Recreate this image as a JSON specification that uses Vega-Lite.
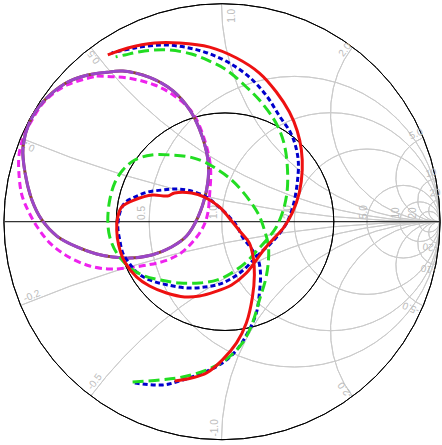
{
"$schema":"https://vega.github.io/schema/vega-lite/v6.json",
"width":442,"height":445,
"autosize":{"type":"fit","contains":"padding"},
"padding":0,
"background":"white",
"config":{"view":{"stroke":null}},
"datasets":{
"grid":[
{"u":0.3333,"v":0,"r":0.6667,"t1":0,"t2":360},
{"u":0.5,"v":0,"r":0.5,"t1":0,"t2":360},
{"u":0.6667,"v":0,"r":0.3333,"t1":0,"t2":360},
{"u":0.8333,"v":0,"r":0.1667,"t1":0,"t2":360},
{"u":0.9091,"v":0,"r":0.0909,"t1":0,"t2":360},
{"u":0.9524,"v":0,"r":0.0476,"t1":0,"t2":360},
{"u":1,"v":5,"r":5,"t1":180,"t2":202.62},
{"u":1,"v":2,"r":2,"t1":180,"t2":233.13},
{"u":1,"v":1,"r":1,"t1":180,"t2":270},
{"u":1,"v":0.5,"r":0.5,"t1":180,"t2":306.87},
{"u":1,"v":0.2,"r":0.2,"t1":180,"t2":337.38},
{"u":1,"v":0.1,"r":0.1,"t1":180,"t2":348.58},
{"u":1,"v":0.05,"r":0.05,"t1":180,"t2":354.28},
{"u":1,"v":-5,"r":5,"t1":337.38,"t2":360},
{"u":1,"v":-2,"r":2,"t1":306.87,"t2":360},
{"u":1,"v":-1,"r":1,"t1":270,"t2":360},
{"u":1,"v":-0.5,"r":0.5,"t1":233.13,"t2":360},
{"u":1,"v":-0.2,"r":0.2,"t1":202.62,"t2":360},
{"u":1,"v":-0.1,"r":0.1,"t1":191.42,"t2":360},
{"u":1,"v":-0.05,"r":0.05,"t1":185.72,"t2":360}
],
"circ":[
{"u":0,"v":0,"r":1,"t1":0,"t2":360},
{"u":0.014,"v":0,"r":0.499,"t1":0,"t2":360}
],
"axisline":[{"u":-1,"u2":1,"v":0}],
"labels":[
{"s":"0.2","u":-0.892,"v":0.347,"a":-157.4},
{"s":"0.5","u":-0.589,"v":0.755,"a":-126.9},
{"s":"1.0","u":0.044,"v":0.944,"a":-90},
{"s":"2.0","u":0.566,"v":0.788,"a":-53.1},
{"s":"5.0","u":0.892,"v":0.402,"a":-22.6},
{"s":"10","u":0.961,"v":0.223,"a":-11.4},
{"s":"20","u":0.979,"v":0.132,"a":-5.7},
{"s":"-0.2","u":-0.874,"v":-0.341,"a":-22.6},
{"s":"-0.5","u":-0.585,"v":-0.735,"a":-53.1},
{"s":"-1.0","u":-0.030,"v":-0.946,"a":-90},
{"s":"-2.0","u":0.566,"v":-0.772,"a":-126.9},
{"s":"-5.0","u":0.869,"v":-0.396,"a":-157.4},
{"s":"-10","u":0.947,"v":-0.217,"a":-168.6},
{"s":"-20","u":0.956,"v":-0.116,"a":-174.3},
{"s":"0.5","u":-0.369,"v":0.040,"a":-90},
{"s":"1.0","u":-0.039,"v":0.044,"a":-90},
{"s":"2.0","u":0.305,"v":0.044,"a":-90},
{"s":"5.0","u":0.654,"v":0.044,"a":-90},
{"s":"10","u":0.800,"v":0.040,"a":-90},
{"s":"20","u":0.878,"v":0.040,"a":-90}
],
"purple":[
{"o":1,"u":-0.516,"v":0.687},{"o":2,"u":-0.456,"v":0.691},{"o":3,"u":-0.333,"v":0.662},{"o":4,"u":-0.225,"v":0.600},{"o":5,"u":-0.145,"v":0.508},{"o":6,"u":-0.090,"v":0.388},{"o":7,"u":-0.062,"v":0.260},{"o":8,"u":-0.071,"v":0.145},{"o":9,"u":-0.112,"v":0.017},{"o":10,"u":-0.163,"v":-0.066},{"o":11,"u":-0.232,"v":-0.116},{"o":12,"u":-0.323,"v":-0.153},{"o":13,"u":-0.424,"v":-0.167},{"o":14,"u":-0.502,"v":-0.162},{"o":15,"u":-0.576,"v":-0.148},{"o":16,"u":-0.667,"v":-0.116},{"o":17,"u":-0.759,"v":-0.066},{"o":18,"u":-0.828,"v":0.008},{"o":19,"u":-0.874,"v":0.100},{"o":20,"u":-0.906,"v":0.228},{"o":21,"u":-0.915,"v":0.338},{"o":22,"u":-0.888,"v":0.448},{"o":23,"u":-0.828,"v":0.544},{"o":24,"u":-0.718,"v":0.636},{"o":25,"u":-0.617,"v":0.673},{"o":26,"u":-0.516,"v":0.687}
],
"magenta":[
{"o":1,"u":-0.576,"v":0.668},{"o":2,"u":-0.433,"v":0.659},{"o":3,"u":-0.310,"v":0.627},{"o":4,"u":-0.218,"v":0.577},{"o":5,"u":-0.135,"v":0.499},{"o":6,"u":-0.080,"v":0.375},{"o":7,"u":-0.053,"v":0.251},{"o":8,"u":-0.057,"v":0.122},{"o":9,"u":-0.067,"v":0.031},{"o":10,"u":-0.089,"v":-0.029},{"o":11,"u":-0.135,"v":-0.093},{"o":12,"u":-0.195,"v":-0.148},{"o":13,"u":-0.264,"v":-0.180},{"o":14,"u":-0.346,"v":-0.199},{"o":15,"u":-0.438,"v":-0.212},{"o":16,"u":-0.516,"v":-0.217},{"o":17,"u":-0.608,"v":-0.203},{"o":18,"u":-0.713,"v":-0.157},{"o":19,"u":-0.791,"v":-0.098},{"o":20,"u":-0.846,"v":-0.029},{"o":21,"u":-0.888,"v":0.044},{"o":22,"u":-0.920,"v":0.122},{"o":23,"u":-0.933,"v":0.214},{"o":24,"u":-0.933,"v":0.306},{"o":25,"u":-0.911,"v":0.393},{"o":26,"u":-0.874,"v":0.466},{"o":27,"u":-0.814,"v":0.554},{"o":28,"u":-0.713,"v":0.627},{"o":29,"u":-0.576,"v":0.668}
],
"red":[
{"o":1,"u":-0.218,"v":-0.731},{"o":2,"u":-0.140,"v":-0.717},{"o":3,"u":-0.071,"v":-0.694},{"o":4,"u":0.002,"v":-0.634},{"o":5,"u":0.067,"v":-0.556},{"o":6,"u":0.112,"v":-0.465},{"o":7,"u":0.140,"v":-0.345},{"o":8,"u":0.149,"v":-0.244},{"o":9,"u":0.144,"v":-0.167},{"o":10,"u":0.126,"v":-0.098},{"o":11,"u":0.089,"v":-0.052},{"o":12,"u":0.048,"v":-0.001},{"o":13,"u":-0.011,"v":0.067},{"o":14,"u":-0.080,"v":0.113},{"o":15,"u":-0.140,"v":0.132},{"o":16,"u":-0.218,"v":0.132},{"o":17,"u":-0.250,"v":0.118},{"o":18,"u":-0.319,"v":0.122},{"o":19,"u":-0.401,"v":0.100},{"o":20,"u":-0.461,"v":0.067},{"o":21,"u":-0.479,"v":0.022},{"o":22,"u":-0.484,"v":-0.038},{"o":23,"u":-0.475,"v":-0.107},{"o":24,"u":-0.447,"v":-0.185},{"o":25,"u":-0.392,"v":-0.254},{"o":26,"u":-0.333,"v":-0.295},{"o":27,"u":-0.255,"v":-0.327},{"o":28,"u":-0.172,"v":-0.345},{"o":29,"u":-0.103,"v":-0.341},{"o":30,"u":-0.034,"v":-0.322},{"o":31,"u":0.044,"v":-0.290},{"o":32,"u":0.112,"v":-0.235},{"o":33,"u":0.158,"v":-0.176},{"o":34,"u":0.195,"v":-0.125},{"o":35,"u":0.236,"v":-0.079},{"o":36,"u":0.282,"v":-0.029},{"o":37,"u":0.323,"v":0.040},{"o":38,"u":0.356,"v":0.136},{"o":39,"u":0.369,"v":0.237},{"o":40,"u":0.365,"v":0.329},{"o":41,"u":0.346,"v":0.416},{"o":42,"u":0.310,"v":0.503},{"o":43,"u":0.250,"v":0.595},{"o":44,"u":0.172,"v":0.682},{"o":45,"u":0.067,"v":0.751},{"o":46,"u":-0.057,"v":0.801},{"o":47,"u":-0.195,"v":0.820},{"o":48,"u":-0.310,"v":0.820},{"o":49,"u":-0.433,"v":0.797},{"o":50,"u":-0.525,"v":0.765}
],
"blue":[
{"o":1,"u":-0.401,"v":-0.740},{"o":2,"u":-0.273,"v":-0.749},{"o":3,"u":-0.181,"v":-0.726},{"o":4,"u":-0.089,"v":-0.694},{"o":5,"u":0.002,"v":-0.648},{"o":6,"u":0.067,"v":-0.589},{"o":7,"u":0.117,"v":-0.511},{"o":8,"u":0.158,"v":-0.419},{"o":9,"u":0.172,"v":-0.327},{"o":10,"u":0.177,"v":-0.235},{"o":11,"u":0.167,"v":-0.176},{"o":12,"u":0.149,"v":-0.144},{"o":13,"u":0.126,"v":-0.111},{"o":14,"u":0.094,"v":-0.070},{"o":15,"u":0.071,"v":-0.024},{"o":16,"u":0.034,"v":0.022},{"o":17,"u":-0.025,"v":0.077},{"o":18,"u":-0.080,"v":0.118},{"o":19,"u":-0.158,"v":0.145},{"o":20,"u":-0.218,"v":0.150},{"o":21,"u":-0.278,"v":0.145},{"o":22,"u":-0.342,"v":0.136},{"o":23,"u":-0.401,"v":0.113},{"o":24,"u":-0.447,"v":0.086},{"o":25,"u":-0.470,"v":0.040},{"o":26,"u":-0.479,"v":-0.024},{"o":27,"u":-0.470,"v":-0.084},{"o":28,"u":-0.456,"v":-0.144},{"o":29,"u":-0.424,"v":-0.194},{"o":30,"u":-0.388,"v":-0.235},{"o":31,"u":-0.333,"v":-0.267},{"o":32,"u":-0.250,"v":-0.290},{"o":33,"u":-0.158,"v":-0.304},{"o":34,"u":-0.080,"v":-0.300},{"o":35,"u":-0.011,"v":-0.286},{"o":36,"u":0.048,"v":-0.258},{"o":37,"u":0.103,"v":-0.217},{"o":38,"u":0.149,"v":-0.171},{"o":39,"u":0.186,"v":-0.134},{"o":40,"u":0.222,"v":-0.102},{"o":41,"u":0.259,"v":-0.061},{"o":42,"u":0.300,"v":-0.001},{"o":43,"u":0.328,"v":0.077},{"o":44,"u":0.346,"v":0.178},{"o":45,"u":0.351,"v":0.274},{"o":46,"u":0.337,"v":0.352},{"o":47,"u":0.314,"v":0.411},{"o":48,"u":0.264,"v":0.485},{"o":49,"u":0.209,"v":0.572},{"o":50,"u":0.131,"v":0.659},{"o":51,"u":0.034,"v":0.728},{"o":52,"u":-0.067,"v":0.774},{"o":53,"u":-0.172,"v":0.801},{"o":54,"u":-0.278,"v":0.811},{"o":55,"u":-0.401,"v":0.797},{"o":56,"u":-0.507,"v":0.774}
],
"green":[
{"o":1,"u":-0.411,"v":-0.735},{"o":2,"u":-0.287,"v":-0.726},{"o":3,"u":-0.181,"v":-0.712},{"o":4,"u":-0.071,"v":-0.680},{"o":5,"u":0.021,"v":-0.630},{"o":6,"u":0.094,"v":-0.556},{"o":7,"u":0.140,"v":-0.465},{"o":8,"u":0.172,"v":-0.359},{"o":9,"u":0.200,"v":-0.267},{"o":10,"u":0.213,"v":-0.185},{"o":11,"u":0.213,"v":-0.107},{"o":12,"u":0.195,"v":-0.038},{"o":13,"u":0.172,"v":0.026},{"o":14,"u":0.135,"v":0.086},{"o":15,"u":0.089,"v":0.145},{"o":16,"u":0.034,"v":0.200},{"o":17,"u":-0.025,"v":0.242},{"o":18,"u":-0.080,"v":0.274},{"o":19,"u":-0.149,"v":0.297},{"o":20,"u":-0.232,"v":0.306},{"o":21,"u":-0.323,"v":0.306},{"o":22,"u":-0.401,"v":0.283},{"o":23,"u":-0.456,"v":0.237},{"o":24,"u":-0.493,"v":0.178},{"o":25,"u":-0.516,"v":0.100},{"o":26,"u":-0.525,"v":0.008},{"o":27,"u":-0.516,"v":-0.070},{"o":28,"u":-0.484,"v":-0.144},{"o":29,"u":-0.433,"v":-0.203},{"o":30,"u":-0.369,"v":-0.244},{"o":31,"u":-0.287,"v":-0.267},{"o":32,"u":-0.195,"v":-0.281},{"o":33,"u":-0.103,"v":-0.281},{"o":34,"u":-0.021,"v":-0.267},{"o":35,"u":0.044,"v":-0.235},{"o":36,"u":0.112,"v":-0.185},{"o":37,"u":0.163,"v":-0.130},{"o":38,"u":0.209,"v":-0.079},{"o":39,"u":0.250,"v":-0.024},{"o":40,"u":0.282,"v":0.054},{"o":41,"u":0.300,"v":0.145},{"o":42,"u":0.300,"v":0.260},{"o":43,"u":0.287,"v":0.352},{"o":44,"u":0.264,"v":0.421},{"o":45,"u":0.232,"v":0.480},{"o":46,"u":0.172,"v":0.558},{"o":47,"u":0.112,"v":0.618},{"o":48,"u":0.021,"v":0.696},{"o":49,"u":-0.057,"v":0.737},{"o":50,"u":-0.140,"v":0.769},{"o":51,"u":-0.250,"v":0.788},{"o":52,"u":-0.356,"v":0.783},{"o":53,"u":-0.447,"v":0.765},{"o":54,"u":-0.489,"v":0.756}
]
},
"layer":[
{"data":{"name":"grid"},
 "mark":{"type":"arc","filled":false,"stroke":"#cbcbcb","strokeWidth":1},
 "encoding":{
  "x":{"field":"u","type":"quantitative","scale":{"domain":[-1.0206,1.0069],"nice":false,"zero":false},"axis":null},
  "y":{"field":"v","type":"quantitative","scale":{"domain":[-1.0243,1.017],"nice":false,"zero":false},"axis":null},
  "theta":{"field":"t1","type":"quantitative","stack":null,"scale":{"type":"linear","domain":[0,360],"range":[0,6.283185307179586]}},
  "theta2":{"field":"t2"},
  "radius":{"field":"r","type":"quantitative","stack":null,"scale":{"type":"linear","domain":[0,1],"range":[0,218],"zero":true}},
  "radius2":{"field":"r"}}},
{"data":{"name":"circ"},
 "mark":{"type":"arc","filled":false,"stroke":"#000000","strokeWidth":1},
 "encoding":{
  "x":{"field":"u","type":"quantitative","axis":null},
  "y":{"field":"v","type":"quantitative","axis":null},
  "theta":{"field":"t1","type":"quantitative","stack":null},
  "theta2":{"field":"t2"},
  "radius":{"field":"r","type":"quantitative","stack":null},
  "radius2":{"field":"r"}}},
{"data":{"name":"axisline"},
 "mark":{"type":"rule","color":"#000000","strokeWidth":1},
 "encoding":{
  "x":{"field":"u","type":"quantitative","axis":null},
  "x2":{"field":"u2"},
  "y":{"field":"v","type":"quantitative","axis":null}}},
{"data":{"name":"labels"},
 "mark":{"type":"text","font":"Liberation Sans","fontSize":10,"fill":"#bbbbbb","align":"center","baseline":"middle"},
 "encoding":{
  "x":{"field":"u","type":"quantitative","axis":null},
  "y":{"field":"v","type":"quantitative","axis":null},
  "angle":{"field":"a","type":"quantitative","scale":null},
  "text":{"field":"s"}}},
{"data":{"name":"magenta"},
 "mark":{"type":"line","color":"#ee22ee","strokeWidth":3,"strokeDash":[7,4],"interpolate":"catmull-rom"},
 "encoding":{
  "x":{"field":"u","type":"quantitative","axis":null},
  "y":{"field":"v","type":"quantitative","axis":null},
  "order":{"field":"o","type":"quantitative"}}},
{"data":{"name":"purple"},
 "mark":{"type":"line","color":"#8b4a2b","strokeWidth":3,"interpolate":"catmull-rom"},
 "encoding":{
  "x":{"field":"u","type":"quantitative","axis":null},
  "y":{"field":"v","type":"quantitative","axis":null},
  "order":{"field":"o","type":"quantitative"}}},
{"data":{"name":"purple"},
 "mark":{"type":"line","color":"#9a46c8","strokeWidth":3,"strokeDash":[24,2],"interpolate":"catmull-rom"},
 "encoding":{
  "x":{"field":"u","type":"quantitative","axis":null},
  "y":{"field":"v","type":"quantitative","axis":null},
  "order":{"field":"o","type":"quantitative"}}},
{"data":{"name":"blue"},
 "mark":{"type":"line","color":"#0000cc","strokeWidth":3,"strokeDash":[5,3],"interpolate":"catmull-rom"},
 "encoding":{
  "x":{"field":"u","type":"quantitative","axis":null},
  "y":{"field":"v","type":"quantitative","axis":null},
  "order":{"field":"o","type":"quantitative"}}},
{"data":{"name":"green"},
 "mark":{"type":"line","color":"#22dd22","strokeWidth":3,"strokeDash":[11,5],"interpolate":"catmull-rom"},
 "encoding":{
  "x":{"field":"u","type":"quantitative","axis":null},
  "y":{"field":"v","type":"quantitative","axis":null},
  "order":{"field":"o","type":"quantitative"}}},
{"data":{"name":"red"},
 "mark":{"type":"line","color":"#ee1111","strokeWidth":3,"interpolate":"catmull-rom"},
 "encoding":{
  "x":{"field":"u","type":"quantitative","axis":null},
  "y":{"field":"v","type":"quantitative","axis":null},
  "order":{"field":"o","type":"quantitative"}}}
]
}
